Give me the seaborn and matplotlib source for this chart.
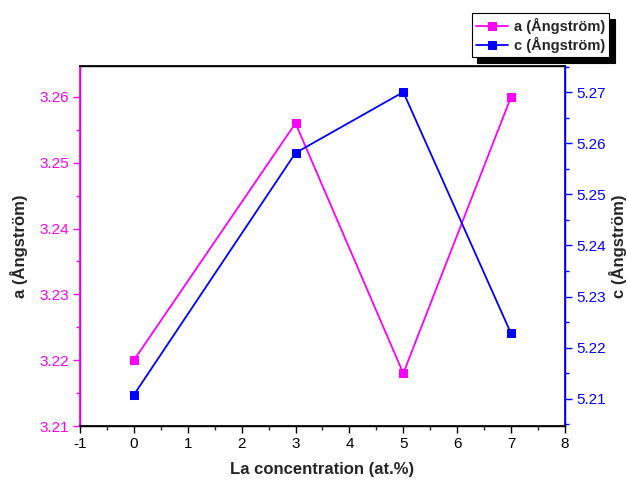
import numpy as np
import pandas as pd
import seaborn as sns
import matplotlib.pyplot as plt
from matplotlib.ticker import MultipleLocator

# data
conc = [0, 3, 5, 7]
a_vals = [3.220, 3.256, 3.218, 3.260]
c_vals = [5.2108, 5.2581, 5.2700, 5.2228]

sns.set_theme(style="white")
plt.rcParams['font.family'] = ['Liberation Sans', 'DejaVu Sans']
plt.rcParams['axes.unicode_minus'] = False

df = pd.DataFrame({'conc': conc, 'a': a_vals, 'c': c_vals})

fig = plt.figure(figsize=(6.27, 4.8), dpi=100)
ax = fig.add_axes([0.1276, 0.1125, 0.7734, 0.75])
ax2 = ax.twinx()

sns.lineplot(data=df, x='conc', y='a', ax=ax, color='#ff00ff', marker='s',
             markersize=6, markeredgecolor='#ff00ff', linewidth=1.3,
             label='a (Ångström)', legend=False)
sns.lineplot(data=df, x='conc', y='c', ax=ax2, color='#0000ff', marker='s',
             markersize=6, markeredgecolor='#0000ff', linewidth=1.3,
             label='c (Ångström)', legend=False)

ax.set_xlim(-1, 8)
ax.set_ylim(3.21, 3.2647)
ax2.set_ylim(5.2047, 5.2751)
ax.xaxis.set_major_locator(MultipleLocator(1))
ax.xaxis.set_minor_locator(MultipleLocator(0.5))
ax.yaxis.set_major_locator(MultipleLocator(0.01))
ax.yaxis.set_minor_locator(MultipleLocator(0.005))
ax2.yaxis.set_major_locator(MultipleLocator(0.01))
ax2.yaxis.set_minor_locator(MultipleLocator(0.005))

ax.tick_params(axis='x', which='major', direction='out', length=5, width=1,
               bottom=True, colors='black', labelsize=11, pad=3)
ax.tick_params(axis='x', which='minor', direction='out', length=3, width=1, bottom=True)
ax.tick_params(axis='y', which='major', direction='out', length=5, width=1,
               left=True, colors='#ff00ff', labelsize=11, pad=3)
ax.tick_params(axis='y', which='minor', direction='out', length=3, width=1,
               left=True, colors='#ff00ff')
ax2.tick_params(axis='y', which='major', direction='out', length=5, width=1,
                right=True, colors='#0000ff', labelsize=11, pad=3)
ax2.tick_params(axis='y', which='minor', direction='out', length=3, width=1,
                right=True, colors='#0000ff')
ax.yaxis.set_major_formatter(plt.FormatStrFormatter('%.2f'))
ax2.yaxis.set_major_formatter(plt.FormatStrFormatter('%.2f'))

for s in ax.spines.values():
    s.set_color('black')
    s.set_linewidth(1)
ax2.spines['left'].set_color('#ff00ff')
ax2.spines['right'].set_color('#0000ff')
ax2.spines['top'].set_color('black')
ax2.spines['bottom'].set_color('black')

ax.set_xlabel('La concentration (at.%)', fontsize=12, fontweight='bold', labelpad=8)
ax.set_ylabel('a (Ångström)', fontsize=12, fontweight='bold', labelpad=8)
ax2.set_ylabel('c (Ångström)', fontsize=12, fontweight='bold')
ax2.yaxis.set_label_coords(1.09, 0.5)

h1, l1 = ax.get_legend_handles_labels()
h2, l2 = ax2.get_legend_handles_labels()
leg = fig.legend(h1 + h2, l1 + l2, loc='upper right', bbox_to_anchor=(0.972, 0.972),
                 borderaxespad=0, frameon=True, fancybox=False,
                 shadow={'color': 'black', 'alpha': 1, 'ox': 4, 'oy': -4},
                 edgecolor='black', prop={'weight': 'bold', 'size': 10.5},
                 handlelength=2.2, borderpad=0.3, labelspacing=0.2, handletextpad=0.4)
leg.get_frame().set_linewidth(0.8)

fig.savefig('out.png', dpi=100)
